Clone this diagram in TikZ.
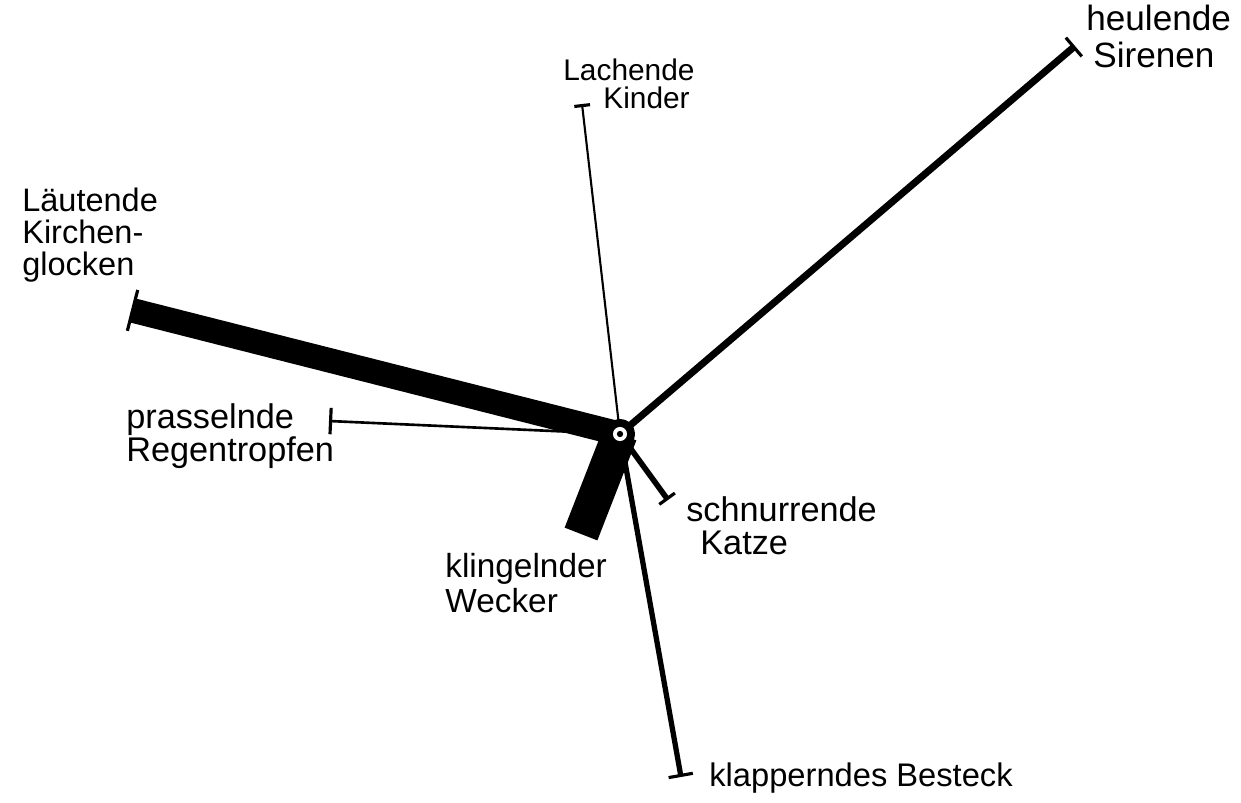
\documentclass[tikz,border=0pt]{standalone}
\usepackage{fontspec}
\setmainfont{Liberation Sans}
\usetikzlibrary{arrows.meta}

\begin{document}
\begin{tikzpicture}[x=0.02cm, y=-0.02cm,
  lbl/.style 2 args={anchor=north west, inner sep=0pt, align=left,
              font=\fontsize{#1}{#2}\selectfont},
  spoke/.style={line cap=butt, line join=miter},
  endbar/.style={-{Bar[width=#1, line width=1.8pt]}},
  hub/.style={circle, fill=black, minimum size=17pt, inner sep=0pt}
]
\useasboundingbox (0,0) rectangle (1241,802);

\coordinate (c) at (620,434);
\coordinate (kinder)  at (582,104);
\coordinate (sirenen) at (1075,46);
\coordinate (glocken) at (131,310);
\coordinate (regen)   at (329,421);
\coordinate (katze)   at (668,500);
\coordinate (wecker)  at (581,534);
\coordinate (besteck) at (681,777);

% spokes
\draw[spoke, endbar=9pt,  line width=1.2pt] (c) -- (kinder);
\draw[spoke, endbar=14pt, line width=4pt]   (c) -- (sirenen);
\draw[spoke, endbar=24pt, line width=14pt]  (c) -- (glocken);
\draw[spoke, endbar=15pt, line width=1.5pt] (c) -- (regen);
\draw[spoke, endbar=11pt, line width=3.2pt] (c) -- (katze);
\draw[spoke, line width=20pt]               (c) -- (wecker);
\draw[spoke, endbar=14pt, line width=3pt]   (c) -- (besteck);

\node[hub] (h) at (c) {};
\fill[white] (h.center) circle (4pt);
\fill[black] (h.center) circle (1.8pt);

% labels
\node[lbl={17}{16pt}]   (lkinder)  at (563,58)  {Lachende\\\hspace*{0.8cm}Kinder};
\node[lbl={20}{21pt}]   (lsirenen) at (1086,5)  {heulende\\\hspace*{0.14cm}Sirenen};
\node[lbl={18.5}{18pt}] (lglocken) at (22,188)  {Läutende\\Kirchen-\\glocken};
\node[lbl={19.5}{17pt}] (lregen)   at (126,403) {prasselnde\\Regentropfen};
\node[lbl={19.5}{19pt}] (lkatze)   at (686,496) {schnurrende\\\hspace*{0.28cm}Katze};
\node[lbl={19}{20pt}]   (lwecker)  at (445,553) {klingelnder\\Wecker};
\node[lbl={18.6}{20pt}] (lbesteck) at (709,762) {klapperndes Besteck};
\end{tikzpicture}
\end{document}
